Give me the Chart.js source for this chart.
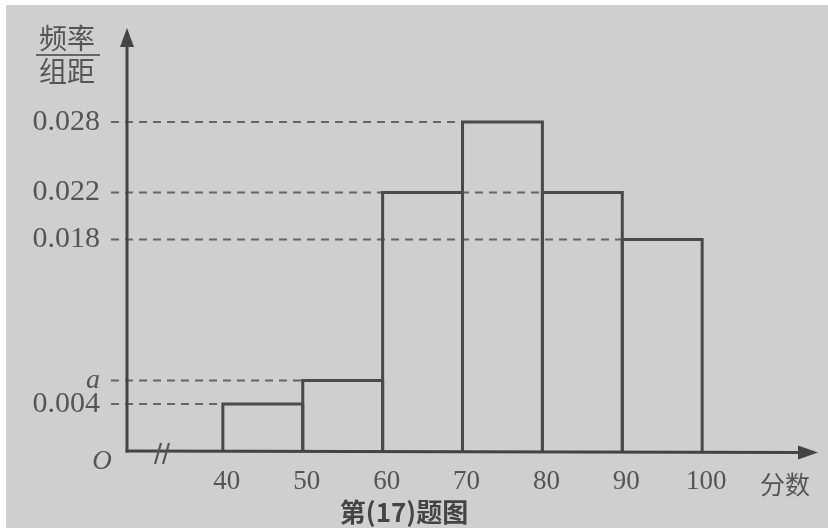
<!DOCTYPE html>
<html><head><meta charset="utf-8">
<script src="https://cdn.jsdelivr.net/npm/chart.js@4"></script>
<style>html,body{margin:0;padding:0;background:#fff;}#wrap{width:828px;height:528px;}</style>
</head><body><div id="wrap"><canvas id="c" width="828" height="528"></canvas></div>
<script>
// Data
const binEdges = [40, 50, 60, 70, 80, 90, 100];
const heights = [0.004, 0.006, 0.022, 0.028, 0.022, 0.018];
const yTickValues = [0.004, 0.006, 0.018, 0.022, 0.028];
const yTickLabels = ['0.004', 'a', '0.018', '0.022', '0.028'];
const xTickValues = [40, 50, 60, 70, 80, 90, 100];
const xTickLabels = ['40', '50', '60', '70', '80', '90', '100'];
const dashEnds = [40, 50, 90, 80, 70];   // where each guide line meets its bar
const yTitleTop = '频率';
const yTitleBottom = '组距';
const xTitle = '分数';
const caption = '第(17)题图';

const X_MIN = 28, X_MAX = 114.5, Y_MAX = 0.036;
const LINE = '#4a4a4a', TEXT = '#555', BG = '#cfcfcf';

const datasets = [];
yTickValues.forEach((v, i) => {
  datasets.push({
    data: [{x: 26, y: v}, {x: dashEnds[i], y: v}],
    borderColor: '#666', borderWidth: 2, borderDash: [8, 6],
    pointRadius: 0, showLine: true, clip: false, order: 2
  });
});
heights.forEach((h, i) => {
  datasets.push({
    data: [{x: binEdges[i], y: 0}, {x: binEdges[i], y: h}, {x: binEdges[i+1], y: h}, {x: binEdges[i+1], y: 0}],
    borderColor: LINE, borderWidth: 3, pointRadius: 0, showLine: true,
    borderJoinStyle: 'miter', tension: 0, clip: false, order: 1
  });
});

const deco = {
  id: 'deco',
  beforeDraw(chart) {
    const ctx = chart.ctx;
    ctx.save();
    ctx.fillStyle = '#fff';
    ctx.fillRect(0, 0, 828, 528);
    ctx.fillStyle = BG;
    ctx.fillRect(6, 5, 822, 523);
    ctx.restore();
  },
  afterDraw(chart) {
    const ctx = chart.ctx;
    const xs = chart.scales.x, ys = chart.scales.y;
    const x0 = xs.left, y0 = ys.getPixelForValue(0);
    ctx.save();
    ctx.strokeStyle = '#444'; ctx.fillStyle = '#444'; ctx.lineWidth = 3;
    // y axis
    ctx.beginPath(); ctx.moveTo(x0, y0 + 1.5); ctx.lineTo(x0, ys.top + 14); ctx.stroke();
    ctx.beginPath(); ctx.moveTo(x0, ys.top); ctx.lineTo(x0 - 7, ys.top + 19); ctx.lineTo(x0 + 7, ys.top + 19); ctx.closePath(); ctx.fill();
    // x axis
    const xr = xs.right;
    ctx.beginPath(); ctx.moveTo(x0 - 1.5, y0); ctx.lineTo(xr - 14, y0 + 1.5); ctx.stroke();
    ctx.beginPath(); ctx.moveTo(xr, y0 + 1.5); ctx.lineTo(xr - 20, y0 - 5.5); ctx.lineTo(xr - 20, y0 + 8.5); ctx.closePath(); ctx.fill();
    // axis break
    ctx.lineWidth = 2.2; ctx.strokeStyle = '#555';
    ctx.beginPath(); ctx.moveTo(155, y0 + 13); ctx.lineTo(161, y0 - 8); ctx.stroke();
    ctx.beginPath(); ctx.moveTo(163, y0 + 13); ctx.lineTo(169, y0 - 8); ctx.stroke();
    // texts
    ctx.fillStyle = TEXT; ctx.textAlign = 'center'; ctx.textBaseline = 'middle';
    ctx.font = 'italic 27px "Liberation Serif"';
    ctx.fillText('O', 102, y0 + 11);
    ctx.font = '28px "Noto Sans CJK SC"';
    ctx.fillText(yTitleTop, 67, 38);
    ctx.fillText(yTitleBottom, 67, 71);
    ctx.lineWidth = 2; ctx.strokeStyle = '#666';
    ctx.beginPath(); ctx.moveTo(36, 55); ctx.lineTo(100, 55); ctx.stroke();
    ctx.font = '25px "Noto Sans CJK SC"';
    ctx.fillText(xTitle, 785, 484);
    ctx.fillStyle = '#444';
    ctx.font = 'bold 26px "Noto Sans CJK SC"';
    ctx.fillText(caption, 404, 512);
    ctx.restore();
  }
};

new Chart(document.getElementById('c'), {
  type: 'scatter',
  data: { datasets },
  options: {
    responsive: false, animation: false, devicePixelRatio: 1,
    layout: { padding: { top: 28, right: 10, left: 0, bottom: 0 } },
    plugins: { legend: { display: false }, tooltip: { enabled: false }, title: { display: false } },
    scales: {
      x: {
        type: 'linear', min: X_MIN, max: X_MAX,
        grid: { display: false, drawTicks: false }, border: { display: false },
        afterBuildTicks: s => { s.ticks = xTickValues.map(v => ({ value: v })); },
        afterFit: s => { s.height = 77; s.paddingLeft = 0; s.paddingRight = 0; },
        ticks: {
          autoSkip: false, maxRotation: 0, padding: 15, labelOffset: 4,
          color: TEXT, font: { family: '"Liberation Serif"', size: 27 },
          callback: (v) => xTickLabels[xTickValues.indexOf(v)]
        }
      },
      y: {
        min: 0, max: Y_MAX,
        grid: { display: false, drawTicks: false }, border: { display: false },
        afterBuildTicks: s => { s.ticks = yTickValues.map(v => ({ value: v })); },
        afterFit: s => { s.width = 127; s.paddingTop = 0; s.paddingBottom = 0; },
        ticks: {
          autoSkip: false, padding: 27, color: TEXT,
          font: (c) => (c.tick && yTickLabels[yTickValues.indexOf(c.tick.value)] === 'a')
            ? { family: '"Liberation Serif"', size: 28, style: 'italic' }
            : { family: '"Liberation Serif"', size: 30 },
          callback: (v) => yTickLabels[yTickValues.indexOf(v)]
        }
      }
    }
  },
  plugins: [deco]
});
</script></body></html>
